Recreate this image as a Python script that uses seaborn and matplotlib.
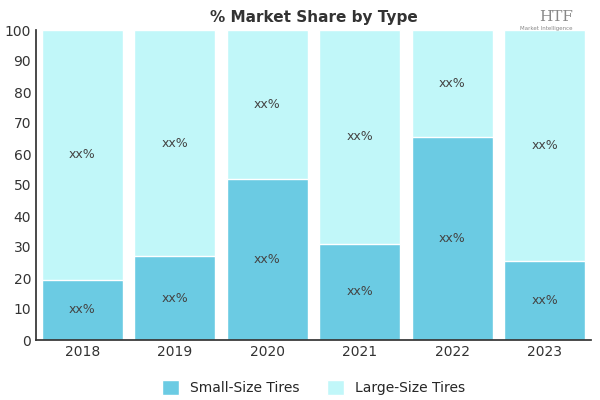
import matplotlib
matplotlib.use("Agg")
import matplotlib.pyplot as plt
import seaborn as sns
import pandas as pd

years = ["2018", "2019", "2020", "2021", "2022", "2023"]
small = [19.5, 27, 52, 31, 65.5, 25.5]
large = [100 - v for v in small]
labels_small = ["xx%"] * 6
labels_large = ["xx%"] * 6

sns.set_theme(style="white")
plt.rcParams['font.family'] = ['DejaVu Sans']
fig, ax = plt.subplots(figsize=(6, 4), dpi=100)
fig.subplots_adjust(left=0.06, right=0.985, top=0.925, bottom=0.15)

df = pd.DataFrame({"year": years, "total": [100] * 6, "small": small})
sns.barplot(data=df, x="year", y="total", color="#c1f7f9", saturation=1, width=0.88, ax=ax, label="Large-Size Tires")
sns.barplot(data=df, x="year", y="small", color="#6bcbe3", saturation=1, width=0.88, ax=ax, label="Small-Size Tires")

for i, (s, l) in enumerate(zip(small, large)):
    ax.text(i, s / 2, labels_small[i], ha="center", va="center", fontsize=9, color="#444444")
    ax.text(i, s + l / 2, labels_large[i], ha="center", va="center", fontsize=9, color="#444444")

ax.set_ylim(0, 100)
ax.set_yticks(range(0, 101, 10))
ax.set_xlabel("")
ax.set_ylabel("")
ax.tick_params(axis="both", labelsize=10, colors="#333333", length=0)
for sp in ["top", "right"]:
    ax.spines[sp].set_visible(False)
ax.spines["left"].set_color("#333333")
ax.spines["bottom"].set_color("#333333")
ax.set_title("% Market Share by Type", fontsize=11, fontweight="bold", color="#333333", pad=6)

h, lab = ax.get_legend_handles_labels()
ax.legend(h[::-1], lab[::-1], loc="upper center", bbox_to_anchor=(0.5, -0.09), ncol=2, frameon=False,
          fontsize=10, handlelength=1.2, handleheight=1.2, columnspacing=2)
fig.text(0.955, 0.975, "HTF", ha="right", va="top", fontsize=11, color="#888888", family="serif")
fig.text(0.955, 0.935, "Market Intelligence", ha="right", va="top", fontsize=4, color="#888888")
fig.savefig("out.png", dpi=100)
